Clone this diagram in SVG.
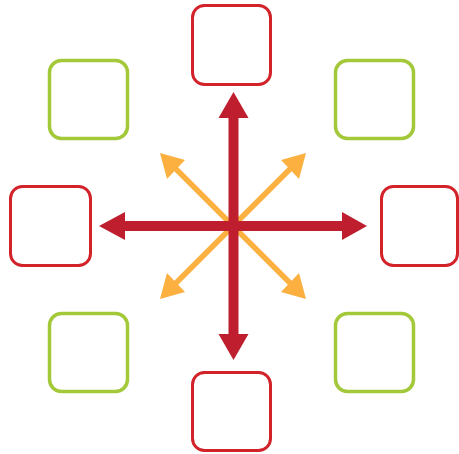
<svg xmlns="http://www.w3.org/2000/svg" width="459" height="454" viewBox="0 0 459 454">
<style>
.red{fill:#fff;stroke:#D2232A;stroke-width:3}
.green{fill:#fff;stroke:#A3C93A;stroke-width:3.5}
.rs{stroke:#BE1E2D;stroke-width:10;fill:none}
.ra{fill:#BE1E2D}
.os{stroke:#FBB040;stroke-width:5.5;fill:none}
.oa{fill:#FBB040}
</style>
<g id="node-top"><rect class="red" x="192.5" y="5.5" width="78" height="79" rx="12"/></g>
<g id="node-bottom"><rect class="red" x="192.5" y="372.5" width="78" height="78" rx="12"/></g>
<g id="node-left"><rect class="red" x="10.5" y="186.5" width="80" height="79" rx="12"/></g>
<g id="node-right"><rect class="red" x="381.5" y="186.5" width="76" height="79" rx="12"/></g>
<g id="node-tl"><rect class="green" x="49.5" y="60.5" width="78" height="78" rx="12"/></g>
<g id="node-tr"><rect class="green" x="335.5" y="60.5" width="78" height="78" rx="12"/></g>
<g id="node-bl"><rect class="green" x="49.5" y="313.5" width="78" height="78" rx="12"/></g>
<g id="node-br"><rect class="green" x="335.5" y="313.5" width="78" height="78" rx="12"/></g>
<g id="connectors">
<line class="os" x1="175" y1="168" x2="291" y2="284"/>
<line class="os" x1="291" y1="168" x2="175" y2="284"/>
<polygon class="oa" points="160,153 185,160 167,179"/>
<polygon class="oa" points="306,153 299,179 281,160"/>
<polygon class="oa" points="160,299 167,273 185,292"/>
<polygon class="oa" points="306,299 281,292 299,273"/>
<line class="rs" x1="233.5" y1="115" x2="233.5" y2="337"/>
<line class="rs" x1="122" y1="226" x2="345" y2="226"/>
<polygon class="ra" points="233.5,92 248.5,118 218.5,118"/>
<polygon class="ra" points="233.5,360 218.5,334 248.5,334"/>
<polygon class="ra" points="99,226 125,212 125,240"/>
<polygon class="ra" points="367,226 342,212 342,240"/>
</g>
</svg>
